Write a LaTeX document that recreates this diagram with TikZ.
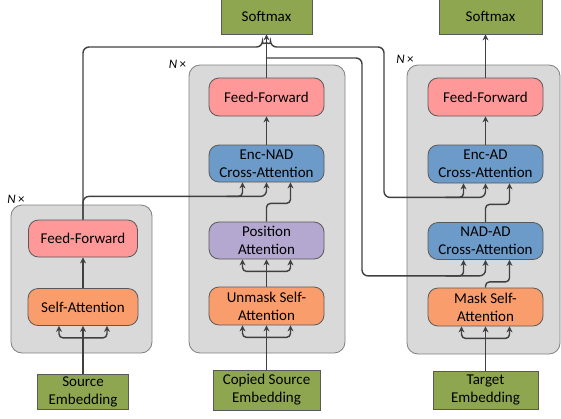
\documentclass[tikz,border=0pt]{standalone}
\usepackage{fontspec}
\setmainfont{Carlito}
\usetikzlibrary{arrows.meta}
\definecolor{stagefill}{HTML}{D9D9D9}
\definecolor{stageline}{HTML}{7F7F7F}
\definecolor{blockline}{HTML}{595959}
\definecolor{wirec}{HTML}{404040}
\definecolor{ffpink}{HTML}{FF9999}
\definecolor{saorange}{HTML}{FA9D6C}
\definecolor{crossblue}{HTML}{6C9BC9}
\definecolor{poslilac}{HTML}{B4A7D0}
\definecolor{embgreen}{HTML}{8FA650}

\begin{document}
\begin{tikzpicture}[x=1pt, y=-1pt,
    stage/.style={draw=stageline, fill=stagefill, rounded corners=11pt, line width=0.8pt, inner sep=0pt},
    block/.style={draw=blockline, rounded corners=10pt, line width=0.8pt, minimum width=115pt,
                  minimum height=37pt, inner sep=0pt, align=center,
                  font=\fontsize{15}{18}\selectfont},
    emb/.style={draw=blockline, fill=embgreen, line width=0.8pt, inner sep=0pt, align=center,
                font=\fontsize{15}{18}\selectfont},
    wire/.style={draw=wirec, line width=1.4pt},
    arr/.style={wire, -{Stealth[length=6pt, width=6pt]}},
    nx/.style={inner sep=0pt, font=\fontsize{13}{13}\selectfont}]
  \useasboundingbox (0,0) rectangle (561,418);

  \node[stage, minimum width=141pt, minimum height=148pt] (encL) at (81.5,279) {};
  \node[stage, minimum width=156pt, minimum height=288pt] (decM) at (267,209) {};
  \node[stage, minimum width=153pt, minimum height=289pt] (decR) at (483.5,209.5) {};
  \node[nx] (nxL) at (16,199) {\textit{N}\,×};
  \node[nx] (nxM) at (177.5,64) {\textit{N}\,×};
  \node[nx] (nxR) at (405,59) {\textit{N}\,×};

  \node[block, fill=ffpink, minimum width=109pt] (lff) at (83,238.5) {Feed-Forward};
  \node[block, fill=saorange, minimum width=110pt] (lsa) at (83,307) {Self-Attention};

  \node[block, fill=ffpink, minimum height=38pt] (mff) at (266.5,97) {Feed-Forward};
  \node[block, fill=crossblue] (enad) at (266.5,163.5) {Enc-NAD\\Cross-Attention};
  \node[block, fill=poslilac] (pa) at (266.5,240.5) {Position\\Attention};
  \node[block, fill=saorange, minimum height=38pt] (usa) at (266.5,306) {Unmask Self-\\Attention};

  \node[block, fill=ffpink, minimum height=38pt] (rff) at (485.5,97) {Feed-Forward};
  \node[block, fill=crossblue, minimum height=38pt] (ead) at (485.5,164) {Enc-AD\\Cross-Attention};
  \node[block, fill=crossblue] (nad) at (485.5,241) {NAD-AD\\Cross-Attention};
  \node[block, fill=saorange, minimum height=38pt] (msa) at (485.5,307) {Mask Self-\\Attention};

  \node[emb, minimum width=91pt, minimum height=35pt] (src) at (83,391.5) {Source\\Embedding};
  \node[emb, minimum width=107pt, minimum height=40pt] (cpy) at (266.5,390) {Copied Source\\Embedding};
  \node[emb, minimum width=105pt, minimum height=38pt] (tgt) at (485.5,390) {Target\\Embedding};
  \node[emb, minimum width=91pt, minimum height=36pt] (smL) at (266.5,16) {Softmax};
  \node[emb, minimum width=103pt, minimum height=36pt] (smR) at (490.5,16) {Softmax};

  \coordinate (encbus) at (384,47);
  \coordinate (nadbus) at (362,58);
  \coordinate (jmp) at (smL.south |- encbus);

  \draw[arr] (src) -- (lsa);
  \draw[arr] (lsa) -- (lff);
  \draw[arr] (cpy) -- (usa);
  \draw[arr] (usa) -- (pa);
  \draw[arr] (enad) -- (mff);
  \draw[arr] (mff) -- (smL);
  \draw[arr] (tgt) -- (msa);
  \draw[arr] (ead) -- (rff);
  \draw[arr] (rff.north) -- (rff.north |- smR.south);

  \foreach \n in {lsa,pa,usa,msa} {
    \draw[arr, rounded corners=4pt] ([yshift=-12pt]\n.south) -| ([xshift=-24pt]\n.south);
    \draw[arr, rounded corners=4pt] ([yshift=-12pt]\n.south) -| ([xshift=24pt]\n.south);
  }

  \draw[arr, rounded corners=6pt] (lff.north) |- ([yshift=-14pt]enad.south) -- (enad.south);
  \draw[arr, rounded corners=4pt] ([xshift=-40pt,yshift=-14pt]enad.south) -| ([xshift=-24pt]enad.south);
  \draw[arr, rounded corners=4pt] (pa.north) |- ([xshift=24pt,yshift=-21pt]enad.south) -- ([xshift=24pt]enad.south);

  \draw[arr, rounded corners=6pt] (lff.north) -- (lff.north |- encbus) -- ([xshift=-4pt]jmp)
    arc[start angle=180, end angle=0, radius=4pt] -- (encbus) |- ([yshift=-14pt]ead.south) -- (ead.south);
  \draw[arr, rounded corners=4pt] ([xshift=-40pt,yshift=-14pt]ead.south) -| ([xshift=-22pt]ead.south);
  \draw[arr, rounded corners=4pt] (nad.north) |- ([xshift=24pt,yshift=-21pt]ead.south) -- ([xshift=24pt]ead.south);

  \draw[arr, rounded corners=6pt] (mff.north |- nadbus) -- (nadbus) |- ([yshift=-16pt]nad.south) -- (nad.south);
  \draw[arr, rounded corners=4pt] ([xshift=-40pt,yshift=-16pt]nad.south) -| ([xshift=-22pt]nad.south);
  \draw[arr, rounded corners=4pt] (msa.north) |- ([xshift=24pt,yshift=-22pt]nad.south) -- ([xshift=24pt]nad.south);
\end{tikzpicture}
\end{document}
